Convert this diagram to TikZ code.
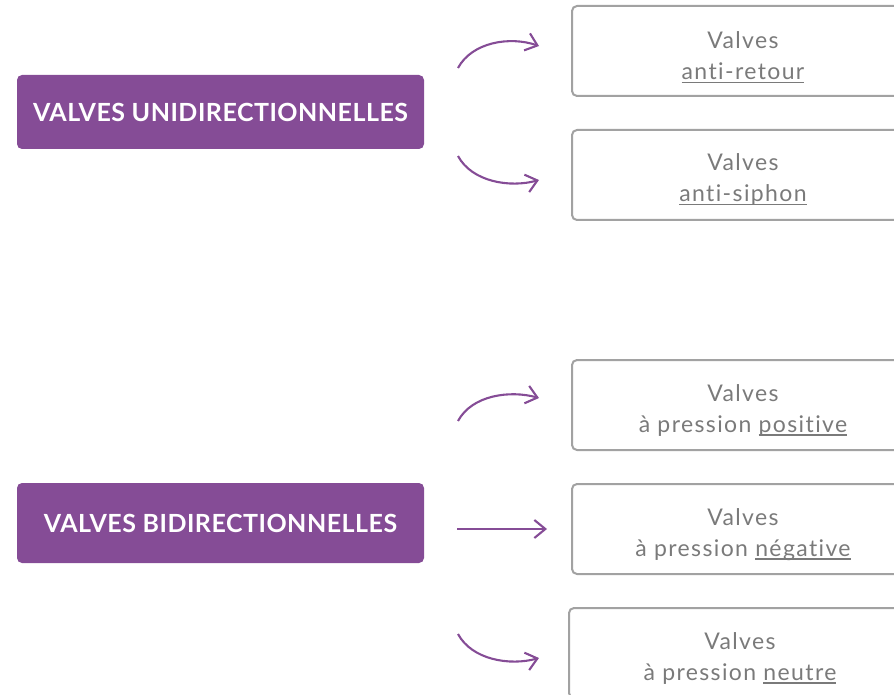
\documentclass[tikz,border=0pt]{standalone}
\usepackage{fontspec}
\setmainfont{Lato}[Ligatures={NoCommon}]
\usetikzlibrary{arrows.meta,calc}
\definecolor{vpurple}{HTML}{854C96}
\definecolor{vgray}{HTML}{A2A2A2}
\definecolor{vtext}{HTML}{7A7A7A}
\newcommand\myul[1]{\setbox0\hbox{#1}\rlap{\color{vtext}\rule[-3.5pt]{\wd0}{1.1pt}}\box0}
\tikzset{
  catbox/.style={fill=vpurple, rounded corners=5pt, minimum width=407pt, text=white,
    font=\bfseries\fontsize{25}{28}\selectfont\addfontfeature{LetterSpace=2}, inner sep=0pt},
  valbox/.style={draw=vgray, line width=2pt, rounded corners=5pt, minimum width=342pt, minimum height=90pt, inner sep=0pt},
  valtext/.style={text=vtext, align=center, font=\fontsize{23}{31}\selectfont\addfontfeature{LetterSpace=6}, inner sep=0pt},
  flow/.style={draw=vpurple, line width=2.1pt, -{Straight Barb[length=11pt,width=18pt,line width=2.1pt]}}
}
\begin{document}
\begin{tikzpicture}[x=1pt,y=-1pt]
\useasboundingbox (0,0) rectangle (894,695);
\clip (0,0) rectangle (894,695);
% category boxes
\node[catbox, minimum height=74pt] (uni) at (220.5,112) {VALVES UNIDIRECTIONNELLES};
\node[catbox, minimum height=80pt] (bi) at (220.5,523) {VALVES BIDIRECTIONNELLES};
% valve boxes
\node[valbox] (a) at (743,51) {};
\node[valbox] (b) at (743,175) {};
\node[valbox] (c) at (743,405) {};
\node[valbox] (d) at (743,529) {};
\node[valbox] (e) at (740,653) {};
\node[valtext, anchor=base] (ta) at (743,80) {Valves\\\myul{anti-retour}};
\node[valtext, anchor=base] (tb) at (743,202) {Valves\\\myul{anti-siphon}};
\node[valtext, anchor=base] (tc) at (743,432) {Valves\\à pression \myul{positive}};
\node[valtext, anchor=base] (td) at (743,556) {Valves\\à pression \myul{négative}};
\node[valtext, anchor=base] (te) at (740,680) {Valves\\à pression \myul{neutre}};
% arrow ends
\coordinate (s1) at (458,68);  \coordinate (e1) at (539,46);
\coordinate (s2) at (458,156); \coordinate (e2) at (539,180);
\coordinate (s3) at (458,421); \coordinate (e3) at (539,398);
\coordinate (s4) at (457,529); \coordinate (e4) at (547,529);
\coordinate (s5) at (458,634); \coordinate (e5) at (539,658);
\draw[flow] (s1) .. controls (472,42) and (510,36) .. (e1);
\draw[flow] (s2) .. controls (472,182) and (510,188) .. (e2);
\draw[flow] (s3) .. controls (472,395) and (510,390) .. (e3);
\draw[flow] (s4) -- (e4);
\draw[flow] (s5) .. controls (472,660) and (510,666) .. (e5);
\end{tikzpicture}
\end{document}
